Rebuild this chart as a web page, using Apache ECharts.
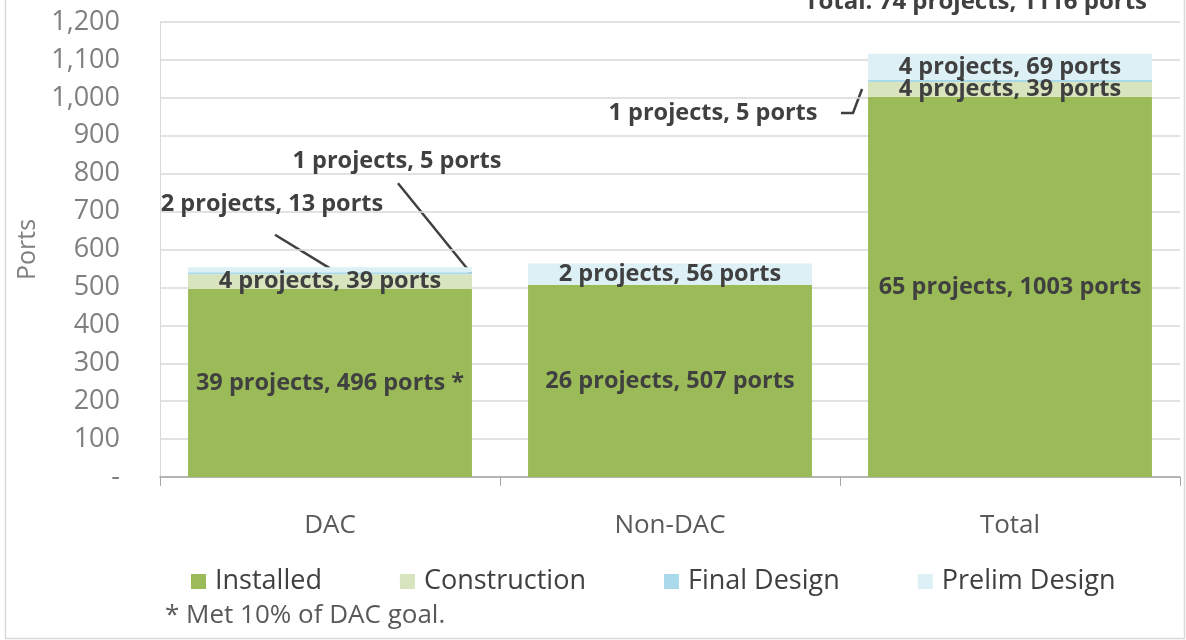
<!DOCTYPE html>
<html>
<head>
<meta charset="utf-8">
<script src="https://cdn.jsdelivr.net/npm/echarts@6/dist/echarts.min.js"></script>
<style>html,body{margin:0;padding:0;background:#fff}#c{width:1186px;height:640px}</style>
</head>
<body>
<div id="c"></div>
<script>
// ---- data ----
const categories = ['DAC', 'Non-DAC', 'Total'];
const seriesNames = ['Installed', 'Construction', 'Final Design', 'Prelim Design'];
const installedPorts = [496, 507, 1003];
const constructionPorts = [39, 0, 39];
const finalDesignPorts = [5, 0, 5];
const prelimDesignPorts = [13, 56, 69];
const installedProjects = [39, 26, 65];
const constructionProjects = [4, 0, 4];
const finalDesignProjects = [1, 0, 1];
const prelimDesignProjects = [2, 2, 4];
const labelSuffix = [' *', '', ''];   // asterisk on DAC installed
const yTicks = [0, 100, 200, 300, 400, 500, 600, 700, 800, 900, 1000, 1100, 1200];
const totalNote = 'Total: 74 projects, 1116 ports';
const footnote = '* Met 10% of DAC goal.';

const colors = ['#9bbb59', '#d7e4bd', '#a9d9ea', '#dcf0f6'];
const FONT = '"Open Sans", Lato, sans-serif';
const LABEL_COLOR = '#404040';

function mk(ports, projects, suffixes) {
  return ports.map((v, i) => ({
    value: v,
    label: { show: v > 0, formatter: projects[i] + ' projects, ' + v + ' ports' + (suffixes ? suffixes[i] : '') }
  }));
}

// label displacement (styling) for labels pulled outside their segment
const moved = {
  'Final Design': { 0: [67, -112], 2: [-297, 32] },
  'Prelim Design': { 0: [-58, -65] }
};

const dataSets = [
  mk(installedPorts, installedProjects, labelSuffix),
  mk(constructionPorts, constructionProjects),
  mk(finalDesignPorts, finalDesignProjects),
  mk(prelimDesignPorts, prelimDesignProjects)
];

const series = seriesNames.map((name, k) => ({
  name, type: 'bar', stack: 'a',
  data: dataSets[k],
  barCategoryGap: '16.5%',
  itemStyle: { color: colors[k] },
  label: {
    position: 'inside',
    fontFamily: FONT, fontWeight: 'bold', fontSize: 23.5, color: LABEL_COLOR
  },
  labelLayout: function (p) {
    const m = moved[name] && moved[name][p.dataIndex];
    if (m) return { dx: m[0], dy: m[1] };
    return {};
  },
  emphasis: { disabled: true }
}));

const staticGraphic = [
  { id: 'foot', type: 'text', left: 165, top: 603,
    style: { text: footnote, font: '26px ' + FONT, fill: '#595959' } },
  { id: 'frame', type: 'rect', left: 3, top: -5, silent: true,
    shape: { width: 1179, height: 641 },
    style: { fill: 'none', stroke: '#d9d9d9', lineWidth: 1.5 } }
];

const chart = echarts.init(document.getElementById('c'));
chart.setOption({
  animation: false,
  color: colors,
  title: {
    text: totalNote, right: 34, top: -15,
    textStyle: { fontFamily: FONT, fontWeight: 'bold', fontSize: 24, color: LABEL_COLOR }
  },
  grid: { left: 160, right: 6, top: 22, bottom: 163 },
  legend: {
    data: seriesNames, left: 186, top: 563,
    icon: 'rect', itemWidth: 15, itemHeight: 15, itemGap: 78,
    textStyle: { fontFamily: FONT, fontSize: 27, color: LABEL_COLOR, padding: [0, 0, 0, 4] }
  },
  xAxis: {
    type: 'category', data: categories,
    axisLine: { lineStyle: { color: '#a6a6a6', width: 1.5 } },
    axisTick: { show: true, length: 9, lineStyle: { color: '#a6a6a6' } },
    axisLabel: { margin: 36, fontFamily: FONT, fontSize: 26, color: '#595959' }
  },
  yAxis: {
    type: 'value', min: yTicks[0], max: yTicks[yTicks.length - 1], interval: 100,
    name: 'Ports', nameLocation: 'middle', nameGap: 110,
    nameTextStyle: { fontFamily: FONT, fontSize: 25, color: '#7f7f7f' },
    axisLine: { show: true, lineStyle: { color: '#d9d9d9' } },
    axisTick: { show: false },
    splitLine: { lineStyle: { color: '#d9d9d9', width: 1.5 } },
    axisLabel: {
      margin: 40, fontFamily: FONT, fontSize: 27, color: '#7f7f7f',
      formatter: v => v === 0 ? '-' : v.toLocaleString('en-US')
    }
  },
  graphic: staticGraphic,
  series
});

// leader lines, anchored to the library's own bar layout
function seg(seriesIdx, dataIdx) {
  return chart.getModel().getSeriesByIndex(seriesIdx).getData().getItemLayout(dataIdx);
}
function center(l) { return [l.x + l.width / 2, l.y + l.height / 2]; }
const lineStyle = { stroke: LABEL_COLOR, lineWidth: 2.5, fill: 'none' };
const leaders = [];
{
  // DAC prelim: label -> top of bar
  const l = seg(3, 0), c = center(l), m = moved['Prelim Design'][0];
  const top = Math.min(l.y, l.y + l.height);
  leaders.push({ id: 'ld1', type: 'polyline', silent: true,
    shape: { points: [[c[0] + m[0] + 3, c[1] + m[1] + 30], [c[0], top + 1]] }, style: lineStyle });
}
{
  // DAC final design: label -> right edge of segment
  const l = seg(2, 0), c = center(l), m = moved['Final Design'][0];
  leaders.push({ id: 'ld2', type: 'polyline', silent: true,
    shape: { points: [[c[0] + m[0] + 1, c[1] + m[1] + 22], [l.x + l.width - 1, c[1]]] }, style: lineStyle });
}
{
  // Total final design: label -> left edge of segment
  const l = seg(2, 2), c = center(l), m = moved['Final Design'][2];
  const lx = c[0] + m[0] + 128, ly = c[1] + m[1];
  leaders.push({ id: 'ld3', type: 'polyline', silent: true,
    shape: { points: [[lx, ly], [lx + 12, ly], [l.x - 6, c[1] + 8]] }, style: lineStyle });
}
chart.setOption({ graphic: staticGraphic.concat(leaders) });
</script>
</body>
</html>
